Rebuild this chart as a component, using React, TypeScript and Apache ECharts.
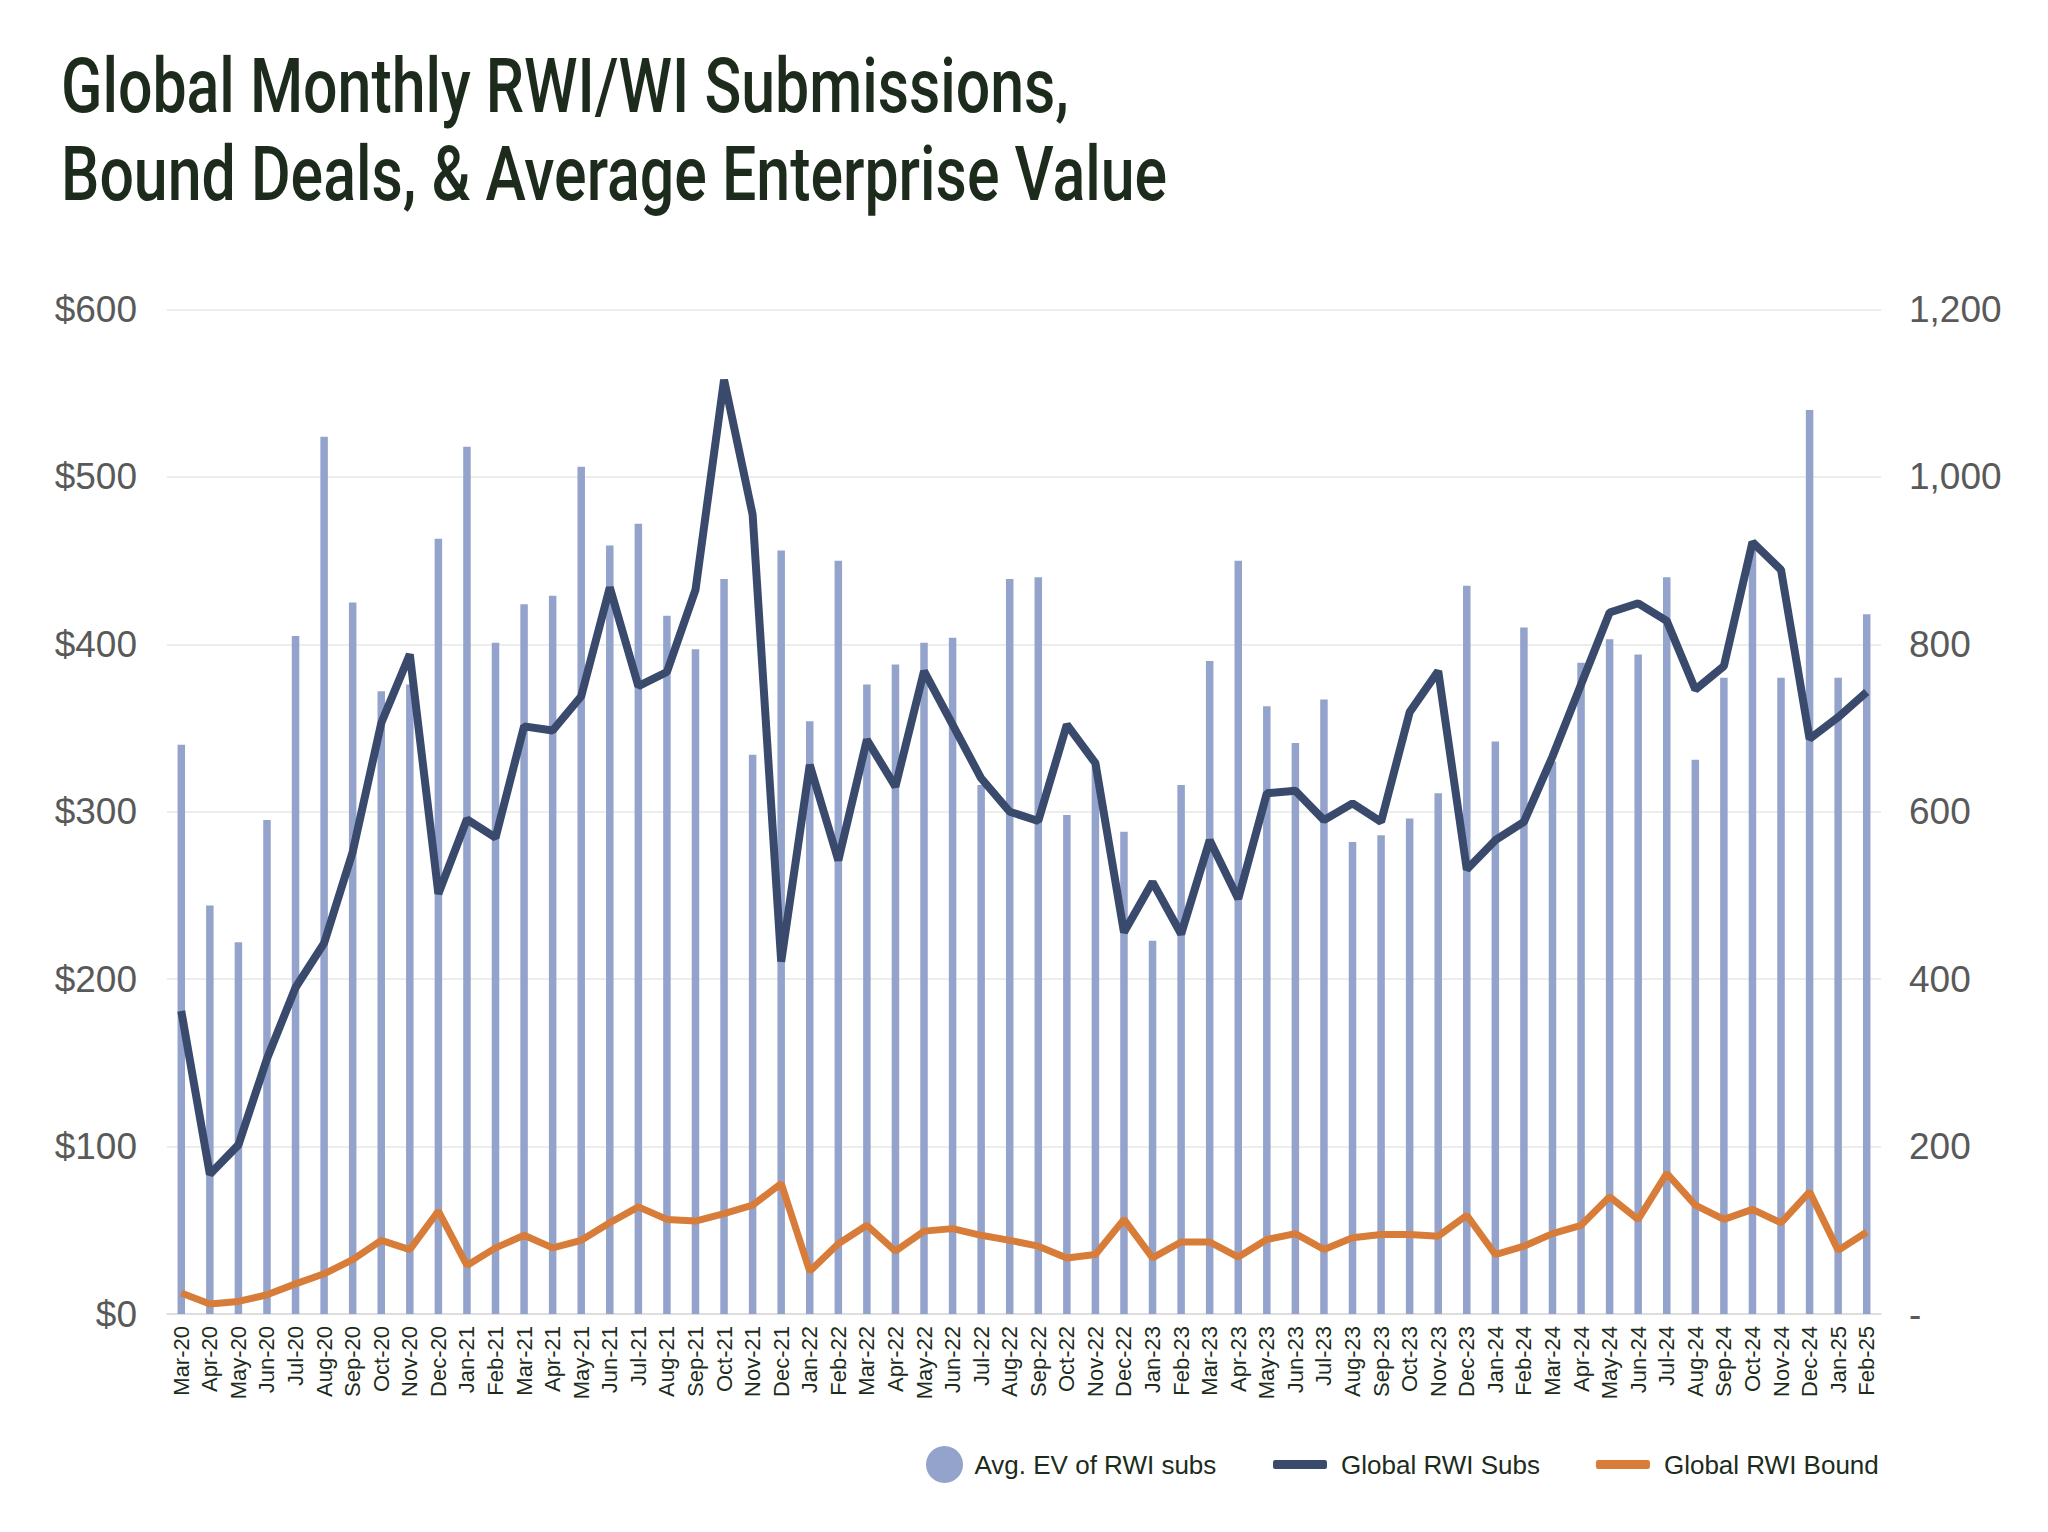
import React, { useEffect, useRef } from "react";
import * as echarts from "echarts";

const months = [
  "Mar-20","Apr-20","May-20","Jun-20","Jul-20","Aug-20","Sep-20","Oct-20","Nov-20","Dec-20",
  "Jan-21","Feb-21","Mar-21","Apr-21","May-21","Jun-21","Jul-21","Aug-21","Sep-21","Oct-21","Nov-21","Dec-21",
  "Jan-22","Feb-22","Mar-22","Apr-22","May-22","Jun-22","Jul-22","Aug-22","Sep-22","Oct-22","Nov-22","Dec-22",
  "Jan-23","Feb-23","Mar-23","Apr-23","May-23","Jun-23","Jul-23","Aug-23","Sep-23","Oct-23","Nov-23","Dec-23",
  "Jan-24","Feb-24","Mar-24","Apr-24","May-24","Jun-24","Jul-24","Aug-24","Sep-24","Oct-24","Nov-24","Dec-24",
  "Jan-25","Feb-25",
];

// Avg. EV of RWI subs ($M) – left axis
const avgEV = [
  340, 244, 222, 295, 405, 524, 425, 372, 376, 463,
  518, 401, 424, 429, 506, 459, 472, 417, 397, 439, 334, 456,
  354, 450, 376, 388, 401, 404, 316, 439, 440, 298, 328, 288,
  223, 316, 390, 450, 363, 341, 367, 282, 286, 296, 311, 435,
  342, 410, 330, 389, 403, 394, 440, 331, 380, 458, 380, 540,
  380, 418,
];

// Global RWI Subs – right axis
const rwiSubs = [
  362, 167, 202, 305, 390, 443, 552, 706, 788, 502,
  591, 569, 702, 697, 738, 868, 750, 767, 865, 1116, 955, 421,
  656, 542, 686, 630, 768, 704, 640, 600, 589, 704, 658, 456,
  516, 454, 566, 496, 622, 625, 590, 610, 588, 719, 768, 531,
  566, 588, 666, 752, 838, 849, 828, 746, 774, 922, 889, 687,
  713, 743,
];

// Global RWI Bound – right axis
const rwiBound = [
  25, 12, 15, 23, 36, 48, 65, 88, 77, 123,
  58, 79, 94, 79, 88, 109, 128, 113, 111, 120, 130, 156,
  51, 84, 106, 75, 99, 102, 94, 88, 81, 67, 71, 113,
  67, 86, 86, 68, 89, 96, 77, 91, 95, 95, 93, 118,
  71, 81, 96, 106, 140, 113, 168, 130, 113, 125, 109, 146,
  76, 98,
];

const titleLines = [
  "Global Monthly RWI/WI Submissions,",
  "Bound Deals, & Average Enterprise Value",
];

const legendNames = ["Avg. EV of RWI subs", "Global RWI Subs", "Global RWI Bound"];

const BAR = "#94a3cb";
const NAVY = "#3a4a6c";
const ORANGE = "#d77d39";
const DARK = "#1c2b1b";
const GREY = "#595959";
const REG = "'Liberation Sans', Arial, sans-serif";

function measure(text: string, font: string): number {
  const ctx = document.createElement("canvas").getContext("2d");
  if (!ctx) return 1;
  ctx.font = font;
  return ctx.measureText(text).width;
}

export default function App() {
  const ref = useRef<HTMLDivElement>(null);

  useEffect(() => {
    document.body.style.margin = "0";
    if (!ref.current) return;
    const chart = echarts.init(ref.current, undefined, { renderer: "svg" });

    const titleFont = "500 76px Roboto";
    const w2 = measure(titleLines[1], titleFont);
    const sx = w2 > 0 ? 1106 / w2 : 0.72;

    chart.setOption({
      animation: false,
      backgroundColor: "#ffffff",
      graphic: [
        {
          type: "text",
          x: 61,
          y: 86,
          scaleX: sx,
          style: {
            text: titleLines[0],
            fontFamily: "Roboto",
            fontWeight: 500,
            fontSize: 76,
            fill: DARK,
            align: "left",
            verticalAlign: "middle",
          },
        },
        {
          type: "text",
          x: 61,
          y: 174,
          scaleX: sx,
          style: {
            text: titleLines[1],
            fontFamily: "Roboto",
            fontWeight: 500,
            fontSize: 76,
            fill: DARK,
            align: "left",
            verticalAlign: "middle",
          },
        },
      ],
      legend: [
        {
          data: [{ name: legendNames[0], icon: "circle" }],
          left: 921,
          top: 1441,
          itemWidth: 44,
          itemHeight: 37,
          textStyle: { color: DARK, fontSize: 26, fontFamily: REG, lineHeight: 37, padding: [0, 0, 0, 3] },
          selectedMode: false,
        },
        {
          data: [
            { name: legendNames[1], icon: "roundRect" },
            { name: legendNames[2], icon: "roundRect" },
          ],
          left: 1268,
          top: 1441,
          itemWidth: 54,
          itemHeight: 9,
          itemGap: 56,
          textStyle: { color: DARK, fontSize: 26, fontFamily: REG, lineHeight: 37, padding: [0, 0, 0, 9] },
          selectedMode: false,
        },
      ],
      grid: { left: 167, right: 167, top: 309.5, bottom: 218, containLabel: false },
      xAxis: {
        type: "category",
        data: months,
        boundaryGap: true,
        axisTick: { show: false },
        axisLine: { show: true, lineStyle: { color: "#d9d9d9", width: 1.5 } },
        axisLabel: {
          rotate: 90,
          interval: 0,
          margin: 12,
          color: DARK,
          fontSize: 22,
          fontFamily: REG,
        },
      },
      yAxis: [
        {
          type: "value",
          min: 0,
          max: 600,
          interval: 100,
          position: "left",
          axisLine: { show: false },
          axisTick: { show: false },
          splitLine: { show: true, lineStyle: { color: "#e6e9e3", width: 1.5 } },
          axisLabel: {
            margin: 30,
            color: GREY,
            fontSize: 37,
            fontFamily: REG,
            formatter: (v: number) => "$" + v,
          },
        },
        {
          type: "value",
          min: 0,
          max: 1200,
          interval: 200,
          position: "right",
          axisLine: { show: false },
          axisTick: { show: false },
          splitLine: { show: false },
          axisLabel: {
            margin: 28,
            color: GREY,
            fontSize: 37,
            fontFamily: REG,
            formatter: (v: number) => (v === 0 ? "-" : v.toLocaleString("en-US")),
          },
        },
      ],
      series: [
        {
          name: legendNames[0],
          type: "bar",
          yAxisIndex: 0,
          data: avgEV,
          barWidth: 7.5,
          itemStyle: { color: BAR },
        },
        {
          name: legendNames[1],
          type: "line",
          yAxisIndex: 1,
          data: rwiSubs,
          symbol: "none",
          lineStyle: { color: NAVY, width: 8 },
          itemStyle: { color: NAVY },
        },
        {
          name: legendNames[2],
          type: "line",
          yAxisIndex: 1,
          data: rwiBound,
          symbol: "none",
          lineStyle: { color: ORANGE, width: 7 },
          itemStyle: { color: ORANGE },
        },
      ],
    });

    return () => {
      chart.dispose();
    };
  }, []);

  return <div ref={ref} style={{ width: 2048, height: 1532 }} />;
}
